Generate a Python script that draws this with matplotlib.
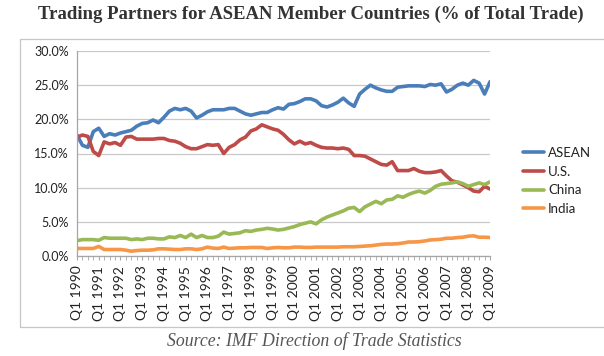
import matplotlib
matplotlib.use("Agg")
import matplotlib.pyplot as plt
from matplotlib.patches import Rectangle

# quarterly share of ASEAN total trade (%), Q1 1990 .. Q1 2009
years = list(range(1990, 2010))
quarters = [f"Q{q} {y}" for y in years for q in range(1, 5)][:77]

asean = [17.7, 16.2, 15.9, 18.2, 18.7, 17.5, 17.9, 17.7, 18.0, 18.2,
         18.4, 19.0, 19.4, 19.5, 19.9, 19.5, 20.3, 21.2, 21.6, 21.4,
         21.6, 21.2, 20.2, 20.6, 21.1, 21.4, 21.4, 21.4, 21.6, 21.6,
         21.2, 20.8, 20.6, 20.8, 21.0, 21.0, 21.4, 21.7, 21.5, 22.2,
         22.3, 22.6, 23.0, 23.0, 22.7, 22.0, 21.8, 22.1, 22.5, 23.1,
         22.4, 21.9, 23.7, 24.4, 25.0, 24.6, 24.3, 24.1, 24.1, 24.7,
         24.8, 24.9, 24.9, 24.9, 24.8, 25.1, 25.0, 25.2, 24.0, 24.4,
         25.0, 25.3, 25.0, 25.7, 25.3, 23.7, 25.5]
us = [17.4, 17.7, 17.5, 15.3, 14.7, 16.7, 16.4, 16.6, 16.2, 17.4,
      17.5, 17.1, 17.1, 17.1, 17.1, 17.2, 17.2, 16.9, 16.8, 16.5,
      16.0, 15.7, 15.7, 16.0, 16.3, 16.2, 16.3, 15.0, 15.9, 16.3,
      17.0, 17.4, 18.3, 18.6, 19.2, 18.9, 18.6, 18.4, 17.8, 17.0,
      16.4, 16.8, 16.4, 16.6, 16.2, 15.9, 15.8, 15.8, 15.7, 15.8,
      15.6, 14.7, 14.7, 14.6, 14.2, 13.8, 13.4, 13.3, 13.8, 12.5,
      12.5, 12.5, 12.8, 12.4, 12.2, 12.2, 12.3, 12.5, 11.7, 11.0,
      10.8, 10.4, 10.0, 9.5, 9.4, 10.2, 9.8]
china = [2.25, 2.4, 2.4, 2.4, 2.3, 2.7, 2.6, 2.6, 2.6, 2.6,
         2.4, 2.5, 2.4, 2.6, 2.6, 2.5, 2.5, 2.8, 2.7, 3.0,
         2.7, 3.2, 2.7, 3.0, 2.7, 2.7, 2.9, 3.5, 3.2, 3.3,
         3.4, 3.7, 3.6, 3.8, 3.9, 4.05, 3.95, 3.8, 3.9, 4.1,
         4.3, 4.6, 4.8, 5.0, 4.7, 5.3, 5.7, 6.0, 6.3, 6.6,
         7.0, 7.1, 6.5, 7.2, 7.6, 8.0, 7.65, 8.2, 8.3, 8.8,
         8.6, 9.0, 9.3, 9.5, 9.2, 9.6, 10.2, 10.5, 10.6, 10.7,
         10.85, 10.6, 10.2, 10.45, 10.7, 10.45, 10.85]
india = [1.1, 1.1, 1.1, 1.1, 1.4, 0.95, 0.95, 0.95, 0.95, 0.85,
         0.7, 0.8, 0.85, 0.85, 0.9, 1.05, 1.05, 1.0, 0.95, 0.95,
         1.05, 1.05, 0.95, 1.05, 1.3, 1.15, 1.1, 1.3, 1.1, 1.15,
         1.2, 1.2, 1.25, 1.25, 1.25, 1.1, 1.2, 1.25, 1.2, 1.2,
         1.3, 1.3, 1.25, 1.25, 1.3, 1.3, 1.3, 1.3, 1.3, 1.35,
         1.35, 1.35, 1.4, 1.45, 1.5, 1.6, 1.7, 1.75, 1.75, 1.8,
         1.9, 2.05, 2.05, 2.1, 2.2, 2.35, 2.4, 2.45, 2.6, 2.6,
         2.7, 2.75, 2.9, 2.95, 2.75, 2.75, 2.7]

series = [("ASEAN", asean, "#4a7ebb"),
          ("U.S.", us, "#be4b48"),
          ("China", china, "#98b954"),
          ("India", india, "#f79646")]

W, H = 604, 356
fig = plt.figure(figsize=(W / 100, H / 100), dpi=100)

# outer chart box (runs off the right edge like the original)
fig.patches.append(Rectangle((20 / W, (H - 327) / H), 600 / W, 288 / H,
                             transform=fig.transFigure, fill=False,
                             edgecolor="#c6c6c6", linewidth=0.9))

ax = fig.add_axes([77 / W, (H - 256) / H, 413 / W, 205 / H])
x = list(range(len(quarters)))
for name, vals, col in series:
    ax.plot(x, vals, color=col, linewidth=2.6, label=name,
            solid_joinstyle="round", solid_capstyle="round")

ax.set_xlim(0, len(quarters) - 1)
ax.set_ylim(0, 30)
ax.set_yticks(range(0, 31, 5))
ax.set_yticklabels([f"{v:.1f}%" for v in range(0, 31, 5)],
                   fontsize=9, family="Lato", color="#222222")
ax.set_xticks(x[::4])
ax.set_xticklabels(quarters[::4], rotation=90, fontsize=10,
                   family="Lato", color="#222222")
ax.set_xticks(x, minor=True)
ax.tick_params(axis="x", which="both", length=3, color="#a6a6a6", pad=4)
ax.tick_params(axis="y", length=0, pad=6)
ax.grid(axis="y", color="#c8c8c8", linewidth=0.9)
ax.set_axisbelow(True)
for s in ["top", "right"]:
    ax.spines[s].set_visible(False)
for s in ["left", "bottom"]:
    ax.spines[s].set_color("#a6a6a6")
    ax.spines[s].set_linewidth(0.9)

leg = ax.legend(loc="center left", bbox_to_anchor=(523 / W, (H - 181) / H),
                bbox_transform=fig.transFigure, frameon=False, borderpad=0,
                borderaxespad=0, handlelength=1.6, handletextpad=0.3,
                labelspacing=0.5, prop={"family": "Lato", "size": 9.5})
for t in leg.get_texts():
    t.set_color("#222222")

fig.text(311 / W, (H - 14) / H,
         "Trading Partners for ASEAN Member Countries (% of Total Trade)",
         ha="center", va="center", fontsize=13.5, fontweight="bold",
         family="Liberation Serif", color="#333333")
fig.text(314 / W, (H - 341) / H, "Source: IMF Direction of Trade Statistics",
         ha="center", va="center", fontsize=12.8, style="italic",
         family="Liberation Serif", color="#555555")

fig.savefig("out.png", dpi=100)
